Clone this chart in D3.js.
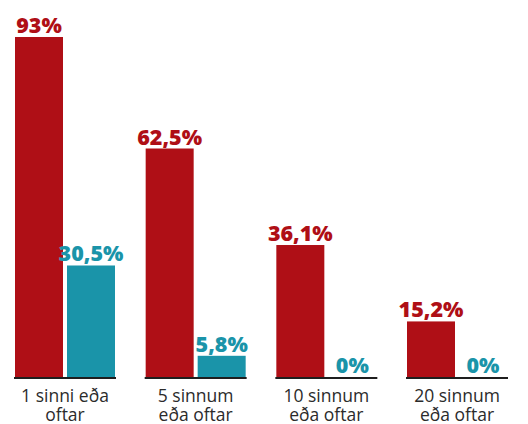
<!DOCTYPE html>
<html>
<head>
<meta charset="utf-8">
<script src="https://cdn.jsdelivr.net/npm/d3@7"></script>
<style>
  body { margin: 0; background: #fff; }
  svg { display: block; font-family: "Open Sans", "Noto Sans", sans-serif; }
</style>
</head>
<body>
<div id="chart"></div>
<script>
const WIDTH = 528;
const HEIGHT = 424;

// data
const categories = [
	['1 sinni eða', 'oftar'],
	['5 sinnum', 'eða oftar'],
	['10 sinnum', 'eða oftar'],
	['20 sinnum', 'eða oftar'],
];
const seriesNames = ['a', 'b'];
const seriesA = [93, 62.5, 36.1, 15.2];
const seriesB = [30.5, 5.8, 0, 0];
const colors = ['#af0f16', '#1a94a9'];

const BASELINE = 377;

const svg = d3.select('#chart')
	.append('svg')
	.attr('width', WIDTH)
	.attr('height', HEIGHT);

const x = d3.scaleBand()
	.domain(d3.range(categories.length))
	.range([15, 507])
	.paddingInner(0.2347)
	.paddingOuter(0);

const xInner = d3.scaleBand()
	.domain(seriesNames)
	.range([0, x.bandwidth()])
	.paddingInner(0.077);

const y = d3.scaleLinear()
	.domain([0, 100])
	.range([BASELINE, BASELINE - 365.6]);

const fmt = (v) => String(v).replace('.', ',') + '%';

const groups = svg.selectAll('.grp')
	.data(categories.map((c, i) => ({ i, label: c, values: [seriesA[i], seriesB[i]] })))
	.join('g')
	.attr('class', 'grp')
	.attr('transform', (d) => `translate(${x(d.i)},0)`);

// bars
groups.selectAll('rect')
	.data((d) => d.values.map((v, k) => ({ v, k })))
	.join('rect')
	.attr('x', (d) => xInner(seriesNames[d.k]))
	.attr('width', xInner.bandwidth())
	.attr('y', (d) => y(d.v))
	.attr('height', (d) => BASELINE - y(d.v))
	.attr('fill', (d) => colors[d.k]);

// value labels
groups.selectAll('.val')
	.data((d) => d.values.map((v, k) => ({ v, k })))
	.join('text')
	.attr('class', 'val')
	.attr('x', (d) => xInner(seriesNames[d.k]) + xInner.bandwidth() / 2)
	.attr('y', (d) => y(d.v) - 4)
	.attr('text-anchor', 'middle')
	.attr('font-size', 21.5)
	.attr('font-weight', 800)
	.attr('fill', (d) => colors[d.k])
	.text((d) => fmt(d.v));

// baseline per group
groups.append('line')
	.attr('x1', -1)
	.attr('x2', x.bandwidth() + 1)
	.attr('y1', BASELINE + 1)
	.attr('y2', BASELINE + 1)
	.attr('stroke', '#1e1e1e')
	.attr('stroke-width', 2);

// category labels
const cat = groups.append('text')
	.attr('text-anchor', 'middle')
	.attr('font-size', 17.5)
	.attr('fill', '#2b2b2b');

cat.selectAll('tspan')
	.data((d) => d.label)
	.join('tspan')
	.attr('x', x.bandwidth() / 2)
	.attr('y', (d, j) => 402 + j * 19)
	.text((d) => d);
</script>
</body>
</html>
